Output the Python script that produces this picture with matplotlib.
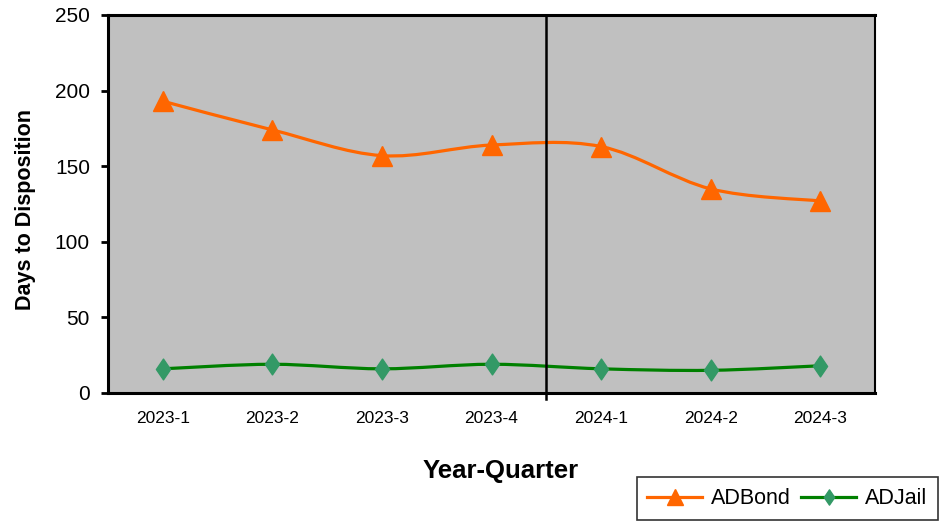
import matplotlib
matplotlib.use("Agg")
import matplotlib.pyplot as plt
from matplotlib.path import Path
from matplotlib.patches import PathPatch
from matplotlib.lines import Line2D
import numpy as np

plt.rcParams['font.family'] = ['Liberation Sans', 'DejaVu Sans']

categories = ["2023-1", "2023-2", "2023-3", "2023-4", "2024-1", "2024-2", "2024-3"]
adbond = [193, 174, 157, 164, 163, 135, 127]
adjail = [16, 19, 16, 19, 16, 15, 18]
yticks = [0, 50, 100, 150, 200, 250]

ORANGE = "#FF6600"
GREEN_LINE = "#008000"
GREEN_MARK = "#339966"
BG = "#C0C0C0"

W, H = 946, 523
fig = plt.figure(figsize=(W / 100, H / 100), dpi=100)
ax = fig.add_axes([108 / W, (H - 393) / H, (875 - 108) / W, (393 - 15) / H])
ax.set_facecolor(BG)

x = np.arange(len(categories))


def smooth_path(xs, ys):
    pts = np.column_stack([xs, ys]).astype(float)
    n = len(pts)
    verts = [pts[0]]
    codes = [Path.MOVETO]
    for i in range(n - 1):
        p0 = pts[i - 1] if i > 0 else pts[i]
        p1 = pts[i]
        p2 = pts[i + 1]
        p3 = pts[i + 2] if i + 2 < n else pts[i + 1]
        c1 = p1 + (p2 - p0) / 6.0
        c2 = p2 - (p3 - p1) / 6.0
        verts += [c1, c2, p2]
        codes += [Path.CURVE4] * 3
    return Path(verts, codes)


diamond = Path([(0, 1), (0.68, 0), (0, -1), (-0.68, 0), (0, 1)],
               [Path.MOVETO, Path.LINETO, Path.LINETO, Path.LINETO, Path.CLOSEPOLY])

ax.add_patch(PathPatch(smooth_path(x, adbond), fill=False, edgecolor=ORANGE, lw=2.3, zorder=3))
ax.plot(x, adbond, linestyle='none', marker='^', markersize=15, color=ORANGE, zorder=4)

ax.add_patch(PathPatch(smooth_path(x, adjail), fill=False, edgecolor=GREEN_LINE, lw=2.3, zorder=3))
ax.plot(x, adjail, linestyle='none', marker=diamond, markersize=15, color=GREEN_MARK, zorder=4)

# vertical divider between 2023 and 2024
ax.axvline(3.5, ymin=-0.015, ymax=1, color='black', lw=1.8, clip_on=False, zorder=5)

ax.set_xlim(-0.5, 6.5)
ax.set_ylim(0, 250)
ax.set_xticks(x)
ax.set_xticklabels(categories, fontsize=12.5)
ax.set_yticks(yticks)
ax.set_yticklabels([str(v) for v in yticks], fontsize=15)
ax.tick_params(axis='x', length=0, pad=13)
ax.tick_params(axis='y', length=5, width=2, direction='out', pad=8)

for side in ['left', 'bottom', 'top']:
    ax.spines[side].set_linewidth(2.2)
    ax.spines[side].set_color('black')
ax.spines['right'].set_linewidth(1.5)
ax.spines['right'].set_color('black')

fig.text(25 / W, 1 - 209.5 / H, "Days to Disposition", fontsize=15.5, fontweight='bold',
         rotation=90, ha='center', va='center')
fig.text(501 / W, 1 - 471 / H, "Year-Quarter", fontsize=18.5, fontweight='bold',
         ha='center', va='center')

handles = [
    Line2D([0], [0], color=ORANGE, lw=2.3, marker='^', markersize=11, markerfacecolor=ORANGE),
    Line2D([0], [0], color=GREEN_LINE, lw=2.3, marker=diamond, markersize=11,
           markerfacecolor=GREEN_MARK, markeredgecolor=GREEN_MARK),
]
leg = fig.legend(handles, ["ADBond", "ADJail"], ncol=2, loc='lower right',
                 bbox_to_anchor=(938 / W, 1 - 520 / H), frameon=True, fancybox=False,
                 edgecolor='black', fontsize=15.5, handlelength=2.55, columnspacing=0.5,
                 handletextpad=0.4, borderpad=0.5, borderaxespad=0)
leg.get_frame().set_linewidth(1.2)

fig.savefig("out.png", dpi=100)
